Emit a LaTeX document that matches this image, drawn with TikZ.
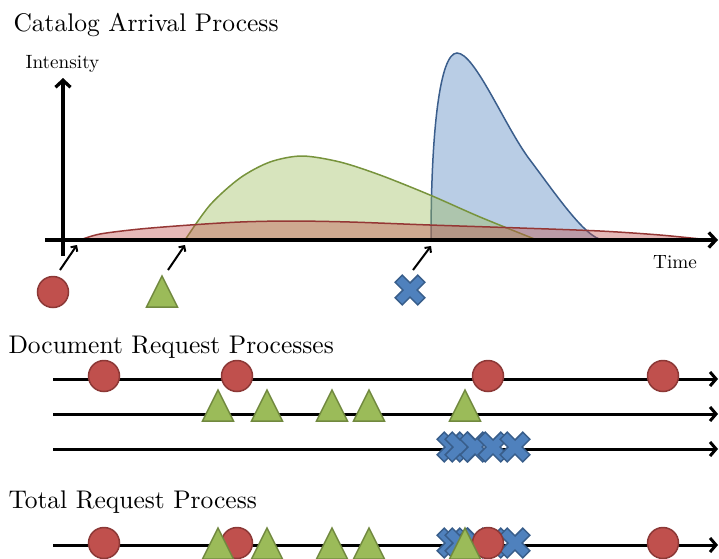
\documentclass[tikz,border=0pt]{standalone}
\usetikzlibrary{arrows.meta}
\definecolor{cred}{HTML}{C0504D}
\definecolor{credd}{HTML}{8C3836}
\definecolor{cgreen}{HTML}{9BBB59}
\definecolor{cgreend}{HTML}{71893F}
\definecolor{cblue}{HTML}{4F81BD}
\definecolor{cblued}{HTML}{385D8A}
\definecolor{credline}{HTML}{953735}
\definecolor{cgreenline}{HTML}{77933C}
\definecolor{cblueline}{HTML}{3B5E8C}
\tikzset{
  axisline/.style={line width=3.3pt, -{Straight Barb[length=7pt,width=15pt]}},
  rowline/.style={line width=3pt, -{Straight Barb[length=6pt,width=14pt]}},
  pointer/.style={line width=2pt, -{Straight Barb[length=4pt,width=8pt]}},
  cstyle/.style={fill=cred, draw=credd, line width=1.5pt},
  tstyle/.style={fill=cgreen, draw=cgreend, line width=1.5pt, line join=miter},
  xstyle/.style={fill=cblue, draw=cblued, line width=1.5pt},
  cmark/.pic={\draw[cstyle] (0,0) circle (15.5);},
  tmark/.pic={\draw[tstyle] (0,-15.5) -- (15.5,15.5) -- (-15.5,15.5) -- cycle;},
  xmark/.pic={\draw[xstyle, rotate=45] (5,16) -- (5,5) -- (16,5) -- (16,-5) -- (5,-5) -- (5,-16) -- (-5,-16) -- (-5,-5) -- (-16,-5) -- (-16,5) -- (-5,5) -- (-5,16) -- cycle;},
  bigtitle/.style={anchor=base west, inner sep=0pt, scale=2.55},
  axlabel/.style={anchor=base, inner sep=0pt, scale=1.92},
  curvefill/.style={fill opacity=0.4},
  curveline/.style={line width=1.5pt},
}
\begin{document}
\begin{tikzpicture}[x=1pt,y=-1pt]
\useasboundingbox (0,0) rectangle (719,558);
\clip (0,0) rectangle (719,558);

% titles
\node[bigtitle] (t1) at (13,31) {Catalog Arrival Process};
\node[bigtitle] (t2) at (8,353) {Document Request Processes};
\node[bigtitle] (t3) at (8,508) {Total Request Process};
\node[axlabel] (ylab) at (62.5,68) {Intensity};
\node[axlabel] (xlab) at (675,268) {Time};

% intensity curves (blue, then green, then red on top)
\fill[cblue, curvefill] (431,240) .. controls (431,130) and (440,53) .. (457,53) .. controls (475,53) and (505,127) .. (530,160) .. controls (555,193) and (585,238) .. (603,240) -- cycle;
\draw[cblueline, curveline] (431,240) .. controls (431,130) and (440,53) .. (457,53) .. controls (475,53) and (505,127) .. (530,160) .. controls (555,193) and (585,238) .. (603,240);

\fill[cgreen, curvefill] plot[smooth] coordinates {(185,240) (210,205) (240,178) (270,162) (302,156) (340,162) (380,175) (430,195) (480,217) (537,240)} -- cycle;
\draw[cgreenline, curveline] plot[smooth] coordinates {(185,240) (210,205) (240,178) (270,162) (302,156) (340,162) (380,175) (430,195) (480,217) (537,240)};

\fill[cred, curvefill] plot[smooth] coordinates {(80,240) (100,234) (140,229) (190,225) (240,222) (290,221) (350,222) (430,225) (520,228) (600,231) (660,235) (710,240)} -- cycle;
\draw[credline, curveline] plot[smooth] coordinates {(80,240) (100,234) (140,229) (190,225) (240,222) (290,221) (350,222) (430,225) (520,228) (600,231) (660,235) (710,240)};

% axes
\coordinate (yb) at (63,256);
\coordinate (yt) at (63,78);
\coordinate (xl) at (45,240);
\coordinate (xr) at (718,240);
\draw[axisline] (yb) -- (yt);
\draw[axisline] (xl) -- (xr);

% pointers
\coordinate (p1s) at (60,270); \coordinate (p1e) at (77,245);
\coordinate (p2s) at (168,270); \coordinate (p2e) at (185,245);
\coordinate (p3s) at (413,270); \coordinate (p3e) at (431,246);
\draw[pointer] (p1s) -- (p1e);
\draw[pointer] (p2s) -- (p2e);
\draw[pointer] (p3s) -- (p3e);

\pic at (53,292) {cmark};
\pic at (162,291.5) {tmark};
\pic at (410,290) {xmark};

% document request processes
\coordinate (r1s) at (53,379); \coordinate (r1e) at (718,379);
\coordinate (r2s) at (53,414); \coordinate (r2e) at (718,414);
\coordinate (r3s) at (53,449); \coordinate (r3e) at (718,449);
\coordinate (r4s) at (53,545); \coordinate (r4e) at (718,545);
\draw[rowline] (r1s) -- (r1e);
\draw[rowline] (r2s) -- (r2e);
\draw[rowline] (r3s) -- (r3e);
\draw[rowline] (r4s) -- (r4e);

\foreach \x in {104,237,488,663} \pic at (\x,376) {cmark};
\foreach \x in {218,267,332,369,465} \pic at (\x,405.5) {tmark};
\foreach \x in {452,460,475,493,515} \pic at (\x,447) {xmark};

% total
\foreach \x in {452,460,475,493,515} \pic at (\x,543) {xmark};
\foreach \x in {104,237,488,663} \pic at (\x,543) {cmark};
\foreach \x in {218,267,332,369,465} \pic at (\x,543.5) {tmark};
\end{tikzpicture}
\end{document}
